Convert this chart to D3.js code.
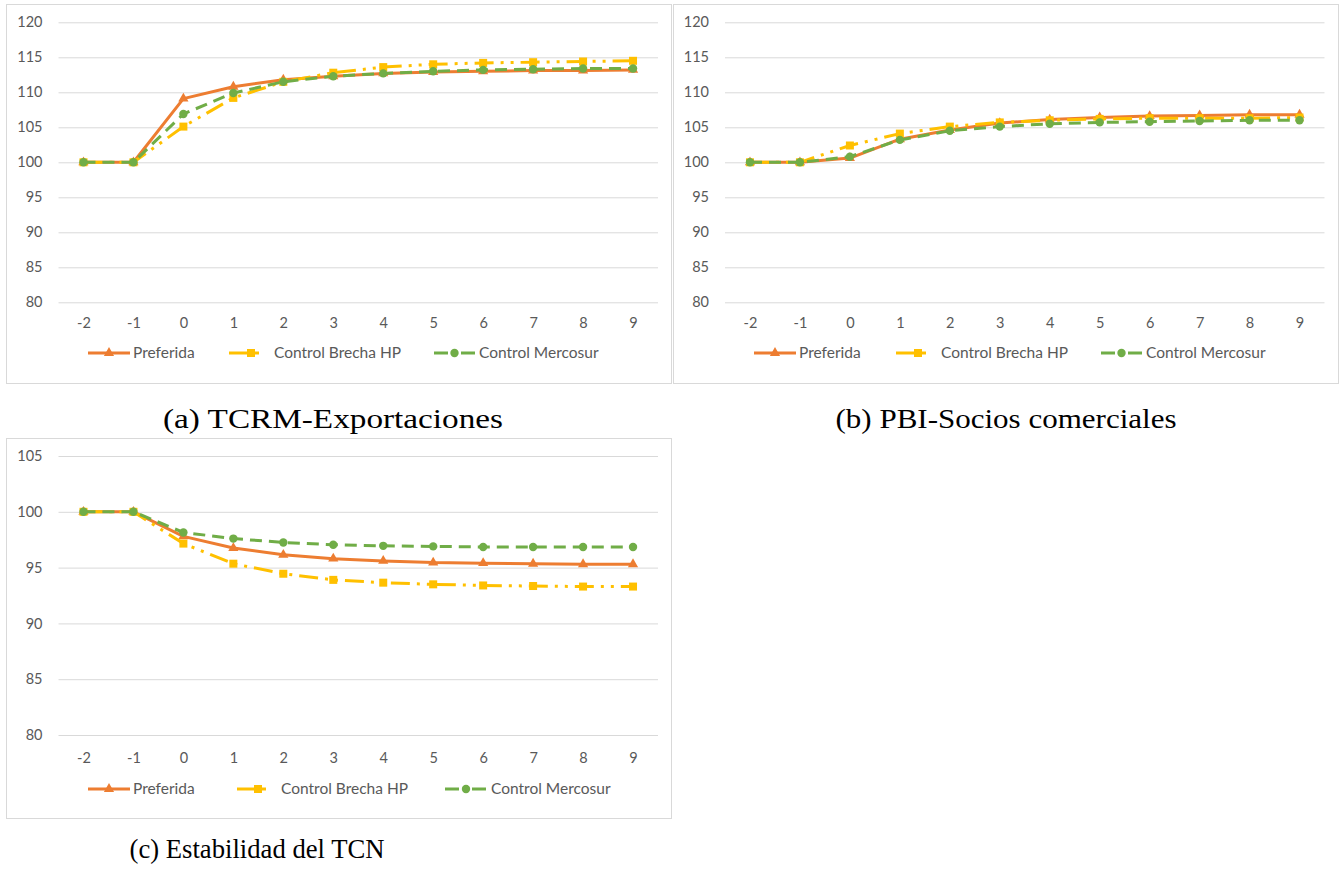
<!DOCTYPE html>
<html>
<head>
<meta charset="utf-8">
<script src="https://cdn.jsdelivr.net/npm/d3@7"></script>
<style>
  html, body { margin: 0; padding: 0; background: #fff; }
  svg { display: block; }
</style>
</head>
<body>
<svg id="chart" width="1339" height="869"></svg>
<script>
// ---------- DATA ----------
const categories = [-2, -1, 0, 1, 2, 3, 4, 5, 6, 7, 8, 9];
const seriesNames = ["Preferida", "Control Brecha HP", "Control Mercosur"];

// (a) TCRM-Exportaciones
const aPreferida = [100, 100, 109.1, 110.8, 111.8, 112.3, 112.7, 112.9, 113.0, 113.1, 113.1, 113.2];
const aBrecha    = [100, 100, 105.1, 109.2, 111.5, 112.8, 113.6, 114.0, 114.2, 114.3, 114.4, 114.5];
const aMercosur  = [100, 100, 106.9, 109.9, 111.5, 112.3, 112.7, 113.0, 113.2, 113.3, 113.4, 113.4];

// (b) PBI-Socios comerciales
const bPreferida = [100, 100, 100.6, 103.3, 104.6, 105.6, 106.1, 106.4, 106.6, 106.7, 106.8, 106.8];
const bBrecha    = [100, 100, 102.4, 104.1, 105.1, 105.7, 106.0, 106.2, 106.3, 106.3, 106.3, 106.4];
const bMercosur  = [100, 100, 100.8, 103.2, 104.5, 105.1, 105.5, 105.7, 105.8, 105.9, 106.0, 106.0];

// (c) Estabilidad del TCN
const cPreferida = [100, 100, 97.8, 96.75, 96.15, 95.8, 95.6, 95.45, 95.4, 95.35, 95.3, 95.3];
const cBrecha    = [100, 100, 97.15, 95.35, 94.45, 93.9, 93.65, 93.5, 93.4, 93.35, 93.3, 93.3];
const cMercosur  = [100, 100, 98.15, 97.6, 97.25, 97.05, 96.95, 96.9, 96.85, 96.85, 96.85, 96.85];

const ticksA = [80, 85, 90, 95, 100, 105, 110, 115, 120];
const ticksC = [80, 85, 90, 95, 100, 105];

const captions = ["(a) TCRM-Exportaciones", "(b) PBI-Socios comerciales", "(c) Estabilidad del TCN"];

// ---------- STYLE ----------
const colors = ["#ED7D31", "#FFC000", "#70AD47"];
const dashes = [null, "19,7,3,7,3,7", "12,7"];
const labelFont = "Lato, 'Open Sans', sans-serif";
const labelColor = "#595959";
const gridColor = "#D9D9D9";

const svg = d3.select("#chart");

function drawMarker(g, type, x, y, color) {
  if (type === 0) {
    g.append("path")
      .attr("d", d3.symbol().type(d3.symbolTriangle).size(45)())
      .attr("transform", `translate(${x},${y})`)
      .attr("fill", color);
  } else if (type === 1) {
    g.append("rect").attr("x", x - 4).attr("y", y - 4).attr("width", 8).attr("height", 8).attr("fill", color);
  } else {
    g.append("circle").attr("cx", x).attr("cy", y).attr("r", 4.2).attr("fill", color);
  }
}

function panel(cfg) {
  const g = svg.append("g");
  g.append("rect")
    .attr("x", cfg.box[0] + 0.5).attr("y", cfg.box[1] + 0.5)
    .attr("width", cfg.box[2]).attr("height", cfg.box[3])
    .attr("fill", "#fff").attr("stroke", gridColor).attr("stroke-width", 1);

  const x = d3.scalePoint().domain(categories).range([cfg.left, cfg.right]).padding(0.5);
  const y = d3.scaleLinear().domain(cfg.domain).range([cfg.bottom, cfg.top]);

  const ya = g.append("g").attr("transform", `translate(${cfg.left},0)`)
    .call(d3.axisLeft(y).tickValues(cfg.ticks).tickSize(-(cfg.right - cfg.left)).tickPadding(16).tickFormat(d3.format("d")));
  ya.select(".domain").remove();
  ya.selectAll(".tick line").attr("stroke", gridColor).attr("stroke-width", 1);
  ya.selectAll(".tick text").attr("fill", labelColor).style("font-family", labelFont).style("font-size", "14.5px");

  const xa = g.append("g").attr("transform", `translate(0,${cfg.bottom})`)
    .call(d3.axisBottom(x).tickSize(0).tickPadding(cfg.xPad));
  xa.select(".domain").remove();
  xa.selectAll(".tick text").attr("fill", labelColor).style("font-family", labelFont).style("font-size", "14.5px");

  cfg.series.forEach((vals, i) => {
    const line = d3.line().x((d, j) => x(categories[j])).y(d => y(d));
    const p = g.append("path").datum(vals)
      .attr("d", line)
      .attr("fill", "none")
      .attr("stroke", colors[i])
      .attr("stroke-width", 3)
      .attr("stroke-linejoin", "round");
    if (dashes[i]) p.attr("stroke-dasharray", dashes[i]);
    vals.forEach((v, j) => drawMarker(g, i, x(categories[j]), y(v), colors[i]));
  });

  const lg = g.append("g");
  const ly = cfg.legendY;
  const L = cfg.legend;
  lg.append("line").attr("x1", L[0][0]).attr("x2", L[0][1]).attr("y1", ly).attr("y2", ly)
    .attr("stroke", colors[0]).attr("stroke-width", 3);
  drawMarker(lg, 0, (L[0][0] + L[0][1]) / 2, ly, colors[0]);
  lg.append("line").attr("x1", L[1][0]).attr("x2", L[1][1]).attr("y1", ly).attr("y2", ly)
    .attr("stroke", colors[1]).attr("stroke-width", 3);
  drawMarker(lg, 1, L[1][1] - 8, ly, colors[1]);
  lg.append("line").attr("x1", L[2][0]).attr("x2", L[2][1]).attr("y1", ly).attr("y2", ly)
    .attr("stroke", colors[2]).attr("stroke-width", 3).attr("stroke-dasharray", "14,13");
  drawMarker(lg, 2, (L[2][0] + L[2][1]) / 2, ly, colors[2]);

  seriesNames.forEach((n, i) => {
    lg.append("text").attr("x", L[i][2]).attr("y", ly).attr("dy", "0.35em")
      .attr("fill", labelColor).style("font-family", labelFont).style("font-size", "15.5px")
      .text(n);
  });

  svg.append("text").attr("x", cfg.capX).attr("y", cfg.capY)
    .attr("text-anchor", "middle").attr("dy", "0.35em")
    .style("font-family", "'Liberation Serif', 'DejaVu Serif', serif")
    .style("font-size", "28px").attr("fill", "#000")
    .attr("textLength", cfg.capW).attr("lengthAdjust", "spacingAndGlyphs")
    .text(cfg.caption);
}

panel({
  box: [6, 4, 665, 379], left: 58.5, right: 658, top: 22.3, bottom: 302.3,
  domain: [80, 120], ticks: ticksA, xPad: 15,
  series: [aPreferida, aBrecha, aMercosur],
  legendY: 353, legend: [[88, 130, 133], [229, 259, 274], [434, 475, 479]],
  caption: captions[0], capX: 333, capY: 418, capW: 340
});
panel({
  box: [673, 4, 665, 379], left: 725, right: 1324.5, top: 22.3, bottom: 302.3,
  domain: [80, 120], ticks: ticksA, xPad: 15,
  series: [bPreferida, bBrecha, bMercosur],
  legendY: 353, legend: [[754, 796, 799], [896, 926, 941], [1101, 1142, 1146]],
  caption: captions[1], capX: 1006, capY: 418, capW: 341
});
panel({
  box: [6, 438, 665, 380], left: 58.5, right: 658, top: 456, bottom: 735,
  domain: [80, 105], ticks: ticksC, xPad: 18,
  series: [cPreferida, cBrecha, cMercosur],
  legendY: 789, legend: [[88, 130, 133], [237, 266, 281], [445, 487, 491]],
  caption: captions[2], capX: 257, capY: 848, capW: 255
});
</script>
</body>
</html>
